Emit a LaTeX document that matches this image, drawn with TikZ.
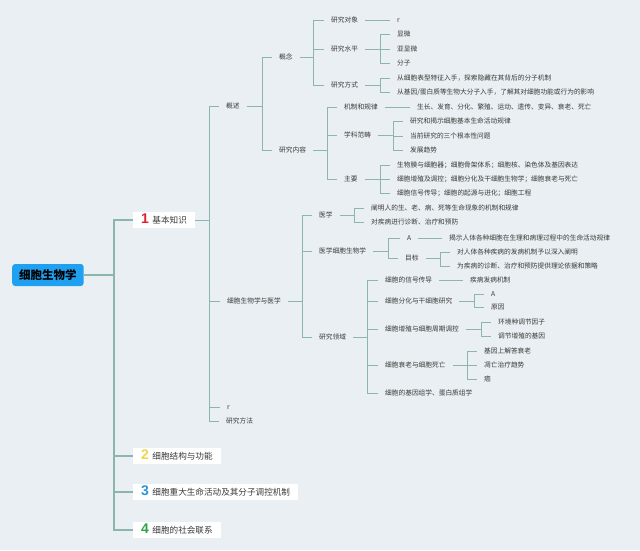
\documentclass[tikz,border=0pt]{standalone}
\usepackage{fontspec}
\setmainfont{Noto Sans CJK SC}
\newfontfamily\numfont{Liberation Sans}
\usetikzlibrary{positioning}

\definecolor{bgcol}{HTML}{E9EFF2}
\definecolor{linecol}{HTML}{8DB5AF}
\definecolor{rootcol}{HTML}{1FA0F0}
\definecolor{txtcol}{HTML}{3A3A3A}
\definecolor{numred}{HTML}{E0202E}
\definecolor{numyellow}{HTML}{F3D54E}
\definecolor{numblue}{HTML}{2B95D8}
\definecolor{numgreen}{HTML}{2DA44A}

% number in front of a main topic
\newcommand{\numtag}[2]{\smash{\numfont\bfseries\fontsize{14}{14}\selectfont\textcolor{#1}{#2}}\hspace{3.5pt}}
% parent -> bus at x=#3 -> each child
\newcommand{\fork}[4][link]{%
  \draw[#1] (#2.east) -- (#3,0 |- #2.east);
  \foreach \kid in {#4} {\draw[#1] (#3,0 |- #2.east) -- (#3,0 |- \kid.west) -- (\kid.west);}
}

\begin{document}
\begin{tikzpicture}[x=1pt,y=-1pt,
  link/.style={draw=linecol, line width=0.8pt},
  mainlink/.style={draw=linecol, line width=1.3pt},
  leaf/.style={anchor=west, inner xsep=7pt, inner ysep=1pt, text height=5.9pt, text depth=0.8pt,
    font=\fontsize{6.7}{8}\selectfont, text=txtcol},
  topic/.style={anchor=west, fill=white, inner xsep=8pt, inner ysep=0pt, minimum height=16pt,
    font=\fontsize{8.6}{10}\selectfont, text=txtcol},
  rootbox/.style={anchor=west, fill=rootcol, rounded corners=3pt, inner xsep=7pt, minimum height=22pt,
    font=\bfseries\fontsize{11.5}{13}\selectfont, text=black}]
\fill[bgcol] (0,0) rectangle (640,550);

% root and main topics
\node[rootbox] (root) at (12,275) {细胞生物学};
\node[topic] (jb) at (133,220) {\numtag{numred}{1}基本知识};
\node[topic] (jg) at (133,456) {\numtag{numyellow}{2}细胞结构与功能};
\node[topic] (zd) at (133,492) {\numtag{numblue}{3}细胞重大生命活动及其分子调控机制};
\node[topic] (sh) at (133,530) {\numtag{numgreen}{4}细胞的社会联系};
\fork[mainlink]{root}{114}{jb,jg,zd,sh}

% 基本知识
\node[leaf] (gs) at (219,106) {概述};
\node[leaf] (yx) at (220,301) {细胞生物学与医学};
\node[leaf] (r1) at (220,407) {r};
\node[leaf] (ff) at (219,421) {研究方法};
\fork{jb}{209}{gs,yx,r1,ff}

% 概述
\node[leaf] (gn) at (272,57) {概念};
\node[leaf] (nr) at (272,150) {研究内容};
\fork{gs}{262}{gn,nr}

% 概念
\node[leaf] (dx) at (324,20) {研究对象};
\node[leaf] (sp) at (324,49) {研究水平};
\node[leaf] (fs) at (324,85) {研究方式};
\fork{gn}{313}{dx,sp,fs}
\node[leaf] (r2) at (390,20) {r};
\draw[link] (dx.east) -- (r2.west);
\node[leaf] (sp1) at (390,34) {显微};
\node[leaf] (sp2) at (390,49) {亚显微};
\node[leaf] (sp3) at (390,63) {分子};
\fork{sp}{380}{sp1,sp2,sp3}
\node[leaf] (fs1) at (390,78) {从细胞表型特征入手，探索隐藏在其背后的分子机制};
\node[leaf] (fs2) at (390,92) {从基因/蛋白质等生物大分子入手，了解其对细胞功能或行为的影响};
\fork{fs}{380}{fs1,fs2}

% 研究内容
\node[leaf] (jz) at (337,107) {机制和规律};
\node[leaf] (fc) at (337,135) {学科范畴};
\node[leaf] (zy) at (337,179) {主要};
\fork{nr}{327}{jz,fc,zy}
\node[leaf] (jz1) at (410,107) {生长、发育、分化、繁殖、运动、遗传、变异、衰老、死亡};
\draw[link] (jz.east) -- (jz1.west);
\node[leaf] (fc1) at (403,121) {研究和揭示细胞基本生命活动规律};
\node[leaf] (fc2) at (403,136) {当前研究的三个根本性问题};
\node[leaf] (fc3) at (403,150) {发展趋势};
\fork{fc}{393}{fc1,fc2,fc3}
\node[leaf] (zy1) at (390,165) {生物膜与细胞器；细胞骨架体系；细胞核、染色体及基因表达};
\node[leaf] (zy2) at (390,179) {细胞增殖及调控；细胞分化及干细胞生物学；细胞衰老与死亡};
\node[leaf] (zy3) at (390,193) {细胞信号传导；细胞的起源与进化；细胞工程};
\fork{zy}{380}{zy1,zy2,zy3}

% 细胞生物学与医学
\node[leaf] (yxue) at (312,215) {医学};
\node[leaf] (yxxb) at (312,251) {医学细胞生物学};
\node[leaf] (ly) at (312,337) {研究领域};
\fork{yx}{302}{yxue,yxxb,ly}
\node[leaf] (yxue1) at (364,208) {阐明人的生、老、病、死等生命现象的机制和规律};
\node[leaf] (yxue2) at (364,222) {对疾病进行诊断、治疗和预防};
\fork{yxue}{354}{yxue1,yxue2}
\node[leaf] (ya) at (400,238) {A};
\node[leaf] (mb) at (398,258) {目标};
\fork{yxxb}{388}{ya,mb}
\node[leaf] (ya1) at (442,238) {揭示人体各种细胞在生理和病理过程中的生命活动规律};
\draw[link] (ya.east) -- (ya1.west);
\node[leaf] (mb1) at (450,252) {对人体各种疾病的发病机制予以深入阐明};
\node[leaf] (mb2) at (450,266) {为疾病的诊断、治疗和预防提供理论依据和策略};
\fork{mb}{440}{mb1,mb2}

% 研究领域
\node[leaf] (xh) at (378,280) {细胞的信号传导};
\node[leaf] (fh) at (378,301) {细胞分化与干细胞研究};
\node[leaf] (zz) at (378,329) {细胞增殖与细胞周期调控};
\node[leaf] (sl) at (378,365) {细胞衰老与细胞死亡};
\node[leaf] (jy) at (378,393) {细胞的基因组学、蛋白质组学};
\fork{ly}{367}{xh,fh,zz,sl,jy}
\node[leaf] (xh1) at (463,280) {疾病发病机制};
\draw[link] (xh.east) -- (xh1.west);
\node[leaf] (fh1) at (484,294) {A};
\node[leaf] (fh2) at (484,307) {原因};
\fork{fh}{474}{fh1,fh2}
\node[leaf] (zz1) at (491,322) {环境种调节因子};
\node[leaf] (zz2) at (491,336) {调节增殖的基因};
\fork{zz}{481}{zz1,zz2}
\node[leaf] (sl1) at (477,351) {基因上解答衰老};
\node[leaf] (sl2) at (477,365) {凋亡治疗趋势};
\node[leaf] (sl3) at (477,379) {癌};
\fork{sl}{467}{sl1,sl2,sl3}
\end{tikzpicture}
\end{document}
